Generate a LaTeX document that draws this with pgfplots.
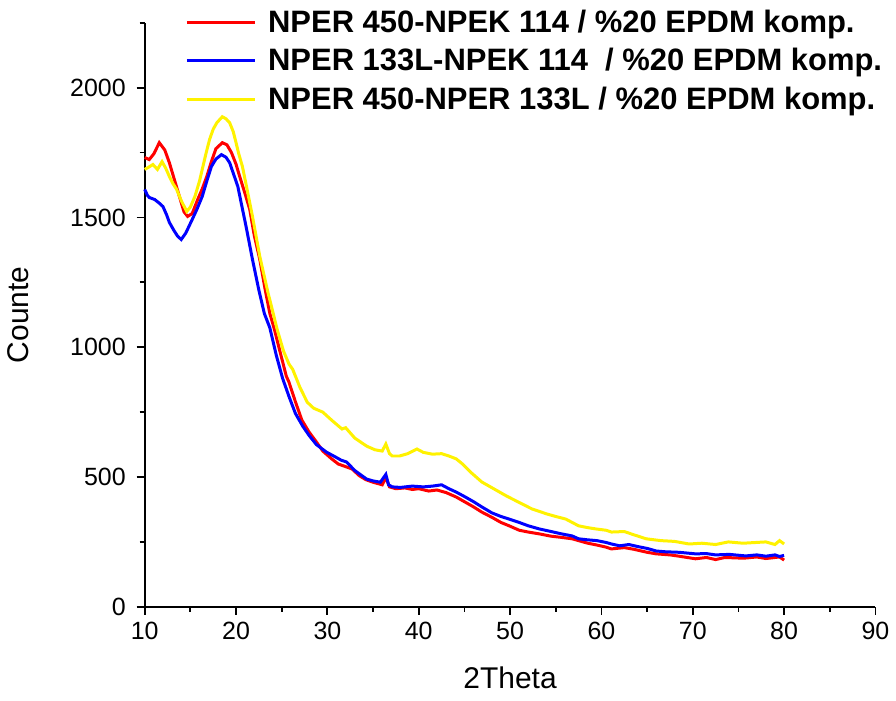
\documentclass[border=0pt]{standalone}
\usepackage{fontspec}
\setmainfont{Liberation Sans}
\usepackage{pgfplots}
\pgfplotsset{compat=1.18}

\pgfplotstableread{
x y
10.0 1731
10.5 1723
11.0 1745
11.6 1788
12.2 1760
12.7 1711
13.3 1640
13.8 1581
14.3 1522
14.7 1504
15.2 1515
15.8 1569
16.3 1610
16.8 1658
17.3 1715
17.8 1765
18.5 1788
19.0 1780
19.5 1750
20.0 1705
20.4 1658
21.0 1590
21.5 1531
22.0 1430
22.6 1338
23.2 1220
23.7 1130
24.2 1069
24.8 985
25.5 889
25.8 865
26.5 790
27.2 720
28.0 673
28.8 635
29.5 600
30.5 569
31.2 550
32.0 540
32.7 531
33.5 505
34.2 490
34.9 481
35.5 475
36.0 470
36.4 498
36.8 462
37.5 455
38.5 458
39.3 452
40.0 455
41.1 446
42.0 450
43.0 440
44.1 423
45.0 405
46.0 385
46.9 365
48.0 345
49.0 325
49.9 312
51.0 295
52.0 288
53.2 281
54.5 272
55.5 268
56.8 262
57.5 255
58.5 245
59.5 238
60.5 230
61.1 223
62.5 228
63.5 222
65.0 210
66.0 204
67.5 200
68.5 195
70.3 185
71.5 190
72.5 182
73.5 190
75.0 188
75.8 188
77.0 192
78.0 186
79.0 190
79.5 192
80.0 180
}\redtab

\pgfplotstableread{
x y
10.0 1608
10.3 1585
10.5 1577
11.1 1569
11.6 1555
12.0 1542
12.4 1510
12.7 1481
13.2 1450
13.6 1428
14.0 1415
14.5 1440
15.2 1492
15.7 1530
16.3 1581
16.8 1640
17.3 1696
17.8 1725
18.4 1742
18.9 1732
19.3 1711
19.8 1660
20.2 1619
20.6 1550
21.1 1465
21.8 1338
22.5 1220
23.1 1130
23.7 1075
24.4 970
25.1 880
25.8 810
26.5 745
27.3 696
28.0 660
28.8 625
29.9 596
31.0 575
31.5 565
32.1 558
33.0 525
34.3 492
35.0 485
35.8 480
36.4 510
36.7 470
37.1 462
38.0 460
39.3 465
40.5 462
41.5 465
42.5 470
43.3 455
44.1 442
45.0 425
46.0 405
46.9 385
48.0 362
49.0 348
49.9 338
51.0 325
52.0 312
53.2 300
54.5 290
55.5 282
56.8 273
57.5 262
58.5 258
59.5 255
60.5 248
61.1 242
62.0 235
63.0 240
64.0 232
65.0 225
66.0 215
67.0 212
68.5 210
70.3 204
71.5 205
72.5 200
74.0 202
75.8 196
77.0 200
78.0 195
79.0 200
79.5 194
80.0 198
}\bluetab

\pgfplotstableread{
x y
10.0 1685
10.5 1695
10.9 1704
11.4 1685
11.9 1715
12.3 1690
12.7 1658
13.1 1630
13.5 1608
14.0 1565
14.6 1523
15.0 1540
15.5 1581
16.0 1640
16.3 1685
16.7 1745
17.1 1800
17.5 1840
17.9 1865
18.5 1888
18.9 1880
19.3 1865
19.7 1830
20.0 1788
20.3 1745
20.7 1696
21.2 1610
21.8 1504
22.6 1350
23.5 1210
24.0 1140
24.5 1069
25.2 985
25.8 935
26.2 915
27.0 845
27.8 788
28.5 765
29.5 750
30.5 718
31.6 685
32.0 690
33.0 650
34.3 619
35.2 605
36.0 600
36.4 627
36.8 590
37.1 581
37.9 581
38.8 590
39.8 608
40.5 595
41.5 588
42.5 590
43.3 581
44.1 570
44.8 550
45.8 515
46.9 481
48.2 455
49.6 427
51.0 402
52.4 377
54.0 358
55.0 348
56.1 338
57.5 312
58.5 305
59.4 300
60.5 295
61.1 288
62.5 290
63.5 278
64.9 262
66.5 255
68.0 252
69.6 242
71.0 245
72.5 240
73.9 250
75.5 245
77.0 248
78.0 250
79.0 240
79.5 255
80.0 242
}\yellowtab

\begin{document}
\begin{tikzpicture}
\begin{axis}[
  width=366pt, height=292.5pt, scale only axis,
  xmin=10, xmax=90, ymin=0, ymax=2250,
  axis lines*=left,
  axis line style={line width=1pt},
  xtick={10,20,...,90}, minor xtick={15,25,...,85},
  ytick={0,500,...,2000}, minor ytick={250,750,...,2250},
  tick align=outside,
  major tick length=4pt, minor tick length=2.5pt,
  every tick/.style={black, line width=0.9pt},
  tick label style={font=\fontsize{12.5}{14}\selectfont},
  yticklabel style={xshift=-2pt},
  /pgf/number format/assume math mode=true,
  /pgf/number format/1000 sep={},
  xlabel={2Theta}, ylabel={Counte},
  label style={font=\fontsize{15}{18}\selectfont},
  xlabel style={yshift=-7pt},
  ylabel style={yshift=14pt},
  clip=false,
  legend cell align=left,
  legend style={draw=none, fill=none, at={(0.055,1.03)}, anchor=north west,
    font=\fontsize{15.5}{18}\selectfont\bfseries, row sep=2.6pt, inner sep=0pt},
  legend image code/.code={\draw[#1, line width=1.5pt] (0pt,0pt) -- (34pt,0pt);
    \path (38pt,0pt);},
]
\addplot[red, line width=1.5pt] table[x=x,y=y] {\redtab};
\addplot[blue, line width=1.5pt] table[x=x,y=y] {\bluetab};
\addplot[yellow, line width=1.5pt] table[x=x,y=y] {\yellowtab};
\legend{NPER 450-NPEK 114 / \%20 EPDM komp.,
        NPER 133L-NPEK 114~ / \%20 EPDM komp.,
        NPER 450-NPER 133L / \%20 EPDM komp.}
\path (rel axis cs:-0.198,-0.161) rectangle (rel axis cs:1.026,1.039);
\end{axis}
\end{tikzpicture}
\end{document}
